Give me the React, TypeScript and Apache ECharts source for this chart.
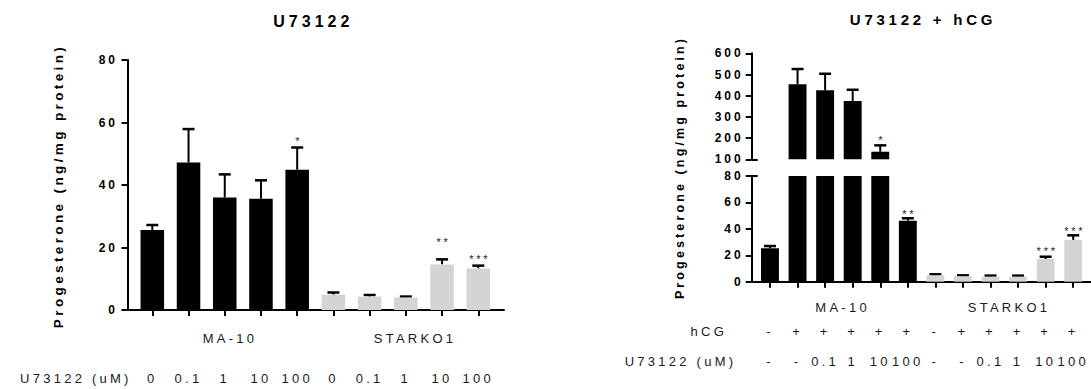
import React, { useEffect, useRef } from "react";
import * as echarts from "echarts";

// ---------- data ----------
const leftDoseLabels = ["0", "0.1", "1", "10", "100", "0", "0.1", "1", "10", "100"];
const leftMean = [25.6, 47.2, 36.0, 35.6, 44.9, 4.9, 4.3, 4.0, 14.6, 13.3];
const leftSem = [1.6, 10.7, 7.4, 5.9, 7.1, 0.7, 0.5, 0.3, 1.6, 0.9];
const leftStarIdx = [4, 8, 9];
const leftStarY = [54.1, 21.8, 16.2];
const leftStarText = ["*", "**", "***"];

const rightHcgLabels = ["-", "+", "+", "+", "+", "+", "-", "+", "+", "+", "+", "+"];
const rightDoseLabels = ["-", "-", "0.1", "1", "10", "100", "-", "-", "0.1", "1", "10", "100"];
const rightMean = [25.3, 453.8, 425.5, 375, 135.8, 46.2, 4.8, 4.1, 3.8, 3.8, 17.2, 31.6];
const rightSem = [1.7, 72, 78, 53, 30, 1.8, 0.8, 0.7, 0.8, 0.8, 1.7, 3.5];
const rightStarIdx = [4, 5, 10, 11];
const rightStarY = [189.6, 51.5, 23.2, 38.2];
const rightStarText = ["*", "**", "***", "***"];

const groupLabels = ["MA-10", "STARKO1"];
const leftYTicks = { min: 0, max: 80, interval: 20 };
const rightLowerTicks = { min: 0, max: 80, interval: 20 };
const rightUpperTicks = { min: 100, max: 600, interval: 100 };

// ---------- style ----------
const FONT = "'Liberation Sans', Arial, Helvetica, sans-serif";
const BLACK = "#000000";
const GREY = "#d4d4d4";
const TXT = "#1a1a1a";

const errorRender = (capW: number) => (params: any, api: any) => {
  const x = api.value(0);
  const v = api.value(1);
  const t = api.value(2);
  const p0 = api.coord([x, v]);
  const p1 = api.coord([x, t]);
  return {
    type: "group",
    children: [
      {
        type: "line",
        shape: { x1: p0[0], y1: p0[1], x2: p1[0], y2: p1[1] },
        style: { stroke: BLACK, lineWidth: 2 },
      },
      {
        type: "line",
        shape: { x1: p1[0] - capW / 2, y1: p1[1], x2: p1[0] + capW / 2, y2: p1[1] },
        style: { stroke: BLACK, lineWidth: 2.5 },
      },
    ],
  };
};

const starRender = (texts: string[]) => (params: any, api: any) => {
  const p = api.coord([api.value(0), api.value(1)]);
  const text = texts[api.value(2)];
  return {
    type: "text",
    x: p[0] + 1.5,
    y: p[1],
    style: {
      text,
      fill: TXT,
      font: `11px ${FONT}`,
      align: "center",
      verticalAlign: "middle",
      textAlign: "center",
      textVerticalAlign: "middle",
    },
  };
};

const gText = (
  text: string,
  x: number,
  y: number,
  font: string,
  align: string = "center",
  rotation: number = 0
) => ({
  type: "text",
  x,
  y,
  rotation,
  silent: true,
  style: {
    text,
    fill: font.startsWith("bold") ? BLACK : TXT,
    font,
    align,
    verticalAlign: "middle",
    textAlign: align,
    textVerticalAlign: "middle",
  },
});

const hiddenAxis = (gridIndex: number, type: string = "value") => ({
  type,
  gridIndex,
  show: false,
  min: 0,
  max: 1,
});

const lineAxis = (gridIndex: number) => ({
  type: "value",
  gridIndex,
  position: "bottom",
  min: 0,
  max: 1,
  axisLine: { show: true, onZero: false, lineStyle: { color: BLACK, width: 2 } },
  axisTick: { show: false },
  axisLabel: { show: false },
  splitLine: { show: false },
});

const valueAxisStyle = (gridIndex: number, ticks: any, offset: number, margin: number) => ({
  type: "value",
  gridIndex,
  position: "left",
  offset,
  min: ticks.min,
  max: ticks.max,
  interval: ticks.interval,
  axisLine: { show: true, lineStyle: { color: BLACK, width: 2 } },
  axisTick: { show: true, length: 6, lineStyle: { color: BLACK, width: 2 } },
  axisLabel: {
    show: true,
    margin,
    color: BLACK,
    fontFamily: FONT,
    fontWeight: "bold",
    fontSize: 12,
  },
  splitLine: { show: false },
});

const breakAxis = (gridIndex: number, ticks: any, offset: number, at: number) => ({
  type: "value",
  gridIndex,
  position: "left",
  offset,
  min: ticks.min,
  max: ticks.max,
  interval: ticks.interval,
  axisLine: { show: false },
  axisTick: {
    show: true,
    inside: true,
    length: 6,
    customValues: [at],
    lineStyle: { color: BLACK, width: 2 },
  },
  axisLabel: { show: false },
  splitLine: { show: false },
});

export default function App() {
  const ref = useRef<HTMLDivElement>(null);

  useEffect(() => {
    if (!ref.current) return;
    const chart = echarts.init(ref.current, null, { renderer: "svg" });

    const leftIdx = leftDoseLabels.map((_, i) => String(i));
    const rightIdx = rightDoseLabels.map((_, i) => String(i));

    const option: any = {
      animation: false,
      textStyle: { fontFamily: FONT },
      grid: [
        { left: 134.2, top: 60, width: 362.2, height: 250 }, // 0 left bars
        { left: 127.5, top: 60, width: 376.5, height: 250 }, // 1 left axis line
        { left: 756.2, top: 176, width: 330.8, height: 105.7 }, // 2 right lower
        { left: 756.2, top: 53.3, width: 330.8, height: 106 }, // 3 right upper
        { left: 751.7, top: 176, right: 0, height: 105.7 }, // 4 right axis line
      ],
      xAxis: [
        {
          type: "category",
          gridIndex: 0,
          position: "bottom",
          data: leftIdx,
          axisLine: { show: false },
          axisTick: { show: true, alignWithLabel: true, length: 6, lineStyle: { color: BLACK, width: 2 } },
          axisLabel: {
            interval: 0,
            margin: 61.5,
            fontSize: 13,
            color: TXT,
            fontFamily: FONT,
            formatter: (_v: string, i: number) => leftDoseLabels[i],
          },
        },
        lineAxis(1),
        {
          type: "category",
          gridIndex: 2,
          position: "bottom",
          data: rightIdx,
          axisLine: { show: false },
          axisTick: { show: true, alignWithLabel: true, length: 6, lineStyle: { color: BLACK, width: 2 } },
          axisLabel: {
            interval: 0,
            margin: 34,
            fontSize: 13,
            lineHeight: 30.7,
            color: TXT,
            fontFamily: FONT,
            formatter: (_v: string, i: number) => `${rightHcgLabels[i]}\n${rightDoseLabels[i]}`,
          },
        },
        { type: "category", gridIndex: 3, data: rightIdx, show: false },
        lineAxis(4),
      ],
      yAxis: [
        valueAxisStyle(0, leftYTicks, 6.7, 9.5),
        hiddenAxis(1),
        valueAxisStyle(2, rightLowerTicks, 4.5, 8),
        breakAxis(2, rightLowerTicks, 4.5, 80),
        valueAxisStyle(3, rightUpperTicks, 4.5, 8),
        breakAxis(3, rightUpperTicks, 4.5, 100),
        hiddenAxis(4),
      ],
      series: [
        {
          type: "bar",
          xAxisIndex: 0,
          yAxisIndex: 0,
          barCategoryGap: "35%",
          clip: true,
          data: leftMean.map((v, i) => ({ value: v, itemStyle: { color: i < 5 ? BLACK : GREY } })),
        },
        {
          type: "custom",
          xAxisIndex: 0,
          yAxisIndex: 0,
          renderItem: errorRender(12),
          data: leftMean.map((v, i) => [i, v, v + leftSem[i]]),
        },
        {
          type: "custom",
          xAxisIndex: 0,
          yAxisIndex: 0,
          renderItem: starRender(leftStarText),
          data: leftStarIdx.map((x, k) => [x, leftStarY[k], k]),
        },
        {
          type: "bar",
          xAxisIndex: 2,
          yAxisIndex: 2,
          barCategoryGap: "35%",
          clip: true,
          data: rightMean.map((v, i) => ({ value: v, itemStyle: { color: i < 6 ? BLACK : GREY } })),
        },
        {
          type: "bar",
          xAxisIndex: 3,
          yAxisIndex: 4,
          barCategoryGap: "35%",
          clip: true,
          data: rightMean.map((v, i) =>
            v > rightUpperTicks.min ? { value: v, itemStyle: { color: i < 6 ? BLACK : GREY } } : "-"
          ),
        },
        {
          type: "custom",
          xAxisIndex: 2,
          yAxisIndex: 2,
          renderItem: errorRender(12),
          data: rightMean
            .map((v, i) => [i, v, v + rightSem[i]])
            .filter((d) => d[1] <= rightLowerTicks.max),
        },
        {
          type: "custom",
          xAxisIndex: 3,
          yAxisIndex: 4,
          renderItem: errorRender(12),
          data: rightMean
            .map((v, i) => [i, v, v + rightSem[i]])
            .filter((d) => d[1] > rightUpperTicks.min),
        },
        {
          type: "custom",
          xAxisIndex: 2,
          yAxisIndex: 2,
          renderItem: starRender(rightStarText),
          data: rightStarIdx
            .map((x, k) => [x, rightStarY[k], k])
            .filter((d) => d[1] <= rightLowerTicks.max),
        },
        {
          type: "custom",
          xAxisIndex: 3,
          yAxisIndex: 4,
          renderItem: starRender(rightStarText),
          data: rightStarIdx
            .map((x, k) => [x, rightStarY[k], k])
            .filter((d) => d[1] > rightUpperTicks.min),
        },
      ],
      graphic: [
        gText("U73122", 313.3, 21, `bold 16px ${FONT}`),
        gText("U73122 + hCG", 923, 19, `bold 15px ${FONT}`),
        gText("Progesterone (ng/mg protein)", 58, 186, `bold 13.5px ${FONT}`, "center", Math.PI / 2),
        gText("Progesterone (ng/mg protein)", 680, 167.5, `bold 12.5px ${FONT}`, "center", Math.PI / 2),
        gText(groupLabels[0], 230, 338.3, `13px ${FONT}`),
        gText(groupLabels[1], 415, 338.3, `13px ${FONT}`),
        gText(groupLabels[0], 842.6, 307.7, `13px ${FONT}`),
        gText(groupLabels[1], 1009, 307.7, `13px ${FONT}`),
        gText("U73122 (uM)", 131.7, 378, `13px ${FONT}`, "right"),
        gText("hCG", 727, 331, `13px ${FONT}`, "right"),
        gText("U73122 (uM)", 736.3, 361.7, `13px ${FONT}`, "right"),
      ],
    };

    chart.setOption(option);
    return () => chart.dispose();
  }, []);

  return (
    <>
      <style>{`.resk-chart text { letter-spacing: 0.25em; }`}</style>
      <div
        ref={ref}
        className="resk-chart"
        style={{ position: "fixed", left: 0, top: 0, width: 1091, height: 389, background: "#fff" }}
      />
    </>
  );
}
